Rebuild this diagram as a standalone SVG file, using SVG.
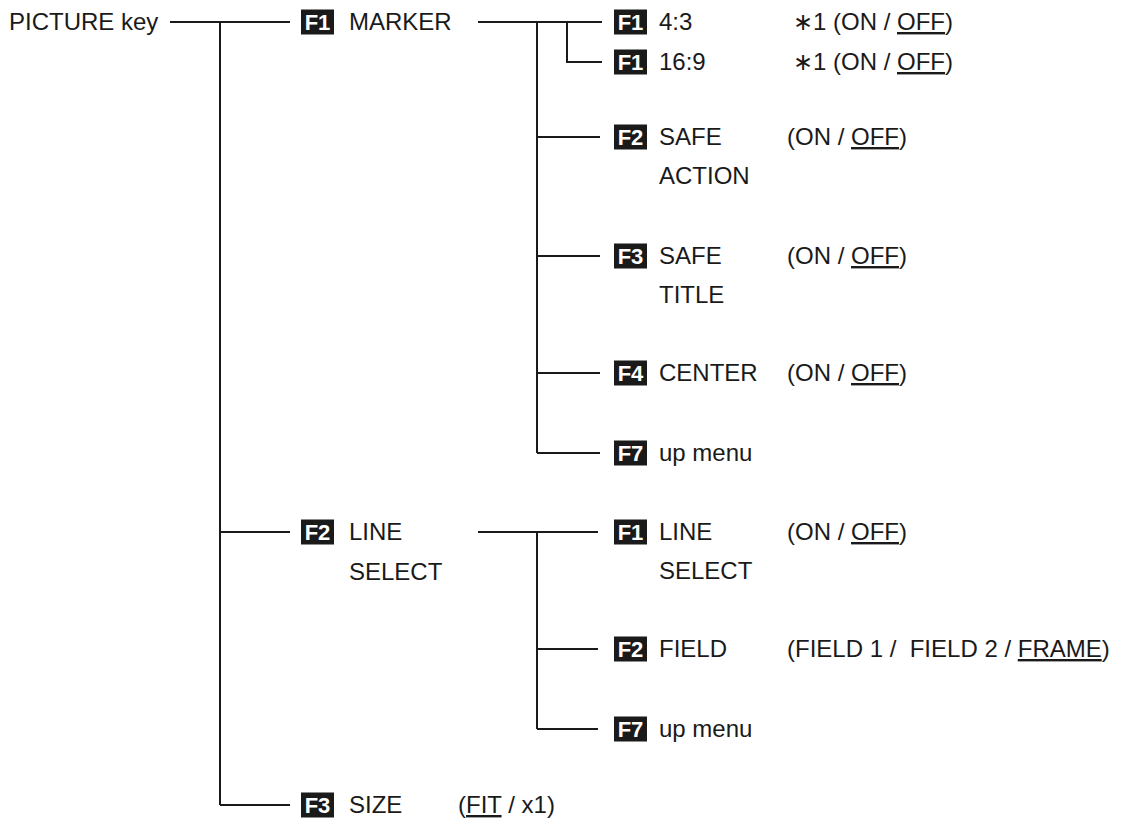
<svg xmlns="http://www.w3.org/2000/svg" width="1121" height="824" viewBox="0 0 1121 824">
<style>
.t{font-family:"Liberation Sans",Arial,sans-serif;font-size:24px;fill:#1a1a1a}
.u{text-decoration:underline}
.kb{fill:#1a1a1a}
.kl{font-family:"Liberation Sans",Arial,sans-serif;font-weight:bold;font-size:22px;fill:#ffffff;text-anchor:middle}
.c{stroke:#1a1a1a;stroke-width:2;fill:none}
</style>
<rect width="1121" height="824" fill="#ffffff"/>
<g id="connectors">
<path class="c" d="M170 22H290M220 22V805M220 532H290M220 805H290"/>
<path class="c" d="M478 22H602M537 22V453M537 137H600M537 256H600M537 373H600M537 453H600M567 22V62H602"/>
<path class="c" d="M478 532H598M537 532V729M537 649H598M537 729H598"/>
</g>
<g id="picture-key"><text class="t" x="9" y="30">PICTURE key</text></g>
<g id="marker">
<rect class="kb" x="301" y="9.5" width="33" height="25"/><text class="kl" x="317.5" y="30">F1</text>
<text class="t" x="349" y="30">MARKER</text>
</g>
<g id="m-4-3">
<rect class="kb" x="614" y="9.5" width="33" height="25"/><text class="kl" x="630.5" y="30">F1</text>
<text class="t" x="659" y="30">4:3</text>
<text class="t" x="793" y="30">∗1 (ON / <tspan class="u">OFF</tspan>)</text>
</g>
<g id="m-16-9">
<rect class="kb" x="614" y="49.5" width="33" height="25"/><text class="kl" x="630.5" y="70">F1</text>
<text class="t" x="659" y="70">16:9</text>
<text class="t" x="793" y="70">∗1 (ON / <tspan class="u">OFF</tspan>)</text>
</g>
<g id="m-safe-action">
<rect class="kb" x="614" y="124.5" width="33" height="25"/><text class="kl" x="630.5" y="145">F2</text>
<text class="t" x="659" y="145">SAFE</text>
<text class="t" x="659" y="184">ACTION</text>
<text class="t" x="787" y="145">(ON / <tspan class="u">OFF</tspan>)</text>
</g>
<g id="m-safe-title">
<rect class="kb" x="614" y="243.5" width="33" height="25"/><text class="kl" x="630.5" y="264">F3</text>
<text class="t" x="659" y="264">SAFE</text>
<text class="t" x="659" y="303">TITLE</text>
<text class="t" x="787" y="264">(ON / <tspan class="u">OFF</tspan>)</text>
</g>
<g id="m-center">
<rect class="kb" x="614" y="360.5" width="33" height="25"/><text class="kl" x="630.5" y="381">F4</text>
<text class="t" x="659" y="381">CENTER</text>
<text class="t" x="787" y="381">(ON / <tspan class="u">OFF</tspan>)</text>
</g>
<g id="m-up">
<rect class="kb" x="614" y="440.5" width="33" height="25"/><text class="kl" x="630.5" y="461">F7</text>
<text class="t" x="659" y="461">up menu</text>
</g>
<g id="line-select">
<rect class="kb" x="301" y="519.5" width="33" height="25"/><text class="kl" x="317.5" y="540">F2</text>
<text class="t" x="349" y="540">LINE</text>
<text class="t" x="349" y="580">SELECT</text>
</g>
<g id="l-line-select">
<rect class="kb" x="614" y="519.5" width="33" height="25"/><text class="kl" x="630.5" y="540">F1</text>
<text class="t" x="659" y="540">LINE</text>
<text class="t" x="659" y="579">SELECT</text>
<text class="t" x="787" y="540">(ON / <tspan class="u">OFF</tspan>)</text>
</g>
<g id="l-field">
<rect class="kb" x="614" y="636.5" width="33" height="25"/><text class="kl" x="630.5" y="657">F2</text>
<text class="t" x="659" y="657">FIELD</text>
<text class="t" x="787" y="657" xml:space="preserve">(FIELD 1 /  FIELD 2 / <tspan class="u">FRAME</tspan>)</text>
</g>
<g id="l-up">
<rect class="kb" x="614" y="716.5" width="33" height="25"/><text class="kl" x="630.5" y="737">F7</text>
<text class="t" x="659" y="737">up menu</text>
</g>
<g id="size">
<rect class="kb" x="301" y="792.5" width="33" height="25"/><text class="kl" x="317.5" y="813">F3</text>
<text class="t" x="349" y="813">SIZE</text>
<text class="t" x="458" y="813">(<tspan class="u">FIT</tspan> / x1)</text>
</g>
</svg>
